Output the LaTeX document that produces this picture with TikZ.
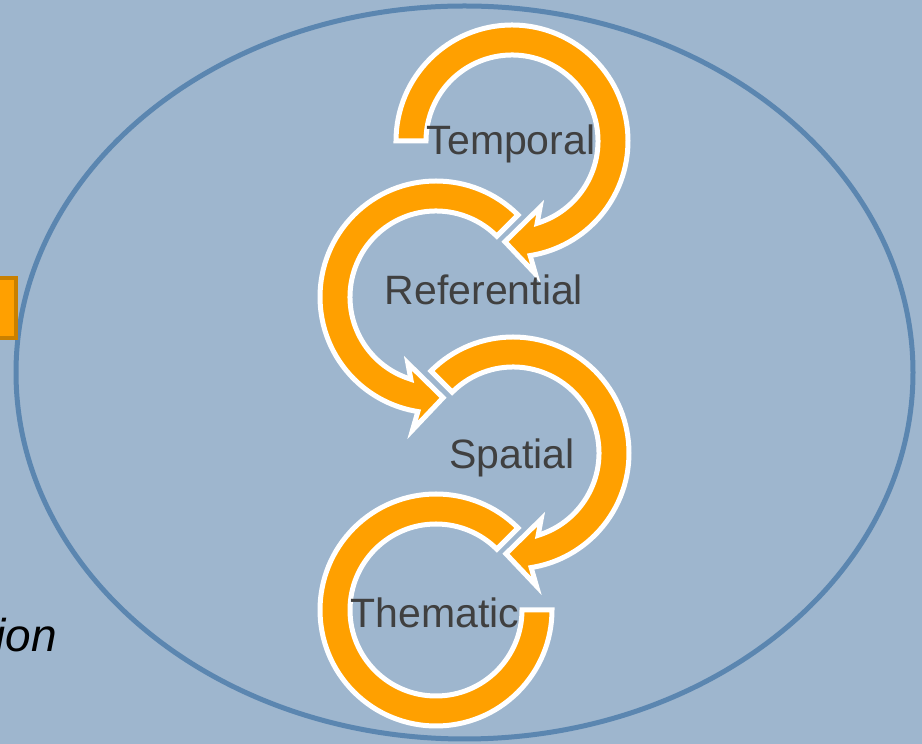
\documentclass[tikz,border=0pt]{standalone}
\usepackage{fontspec}
\setmainfont{Liberation Sans}
\definecolor{bgblue}{HTML}{9EB6CE}
\definecolor{rimblue}{HTML}{5B86B0}
\definecolor{ringorange}{HTML}{FFA000}
\definecolor{boxedge}{HTML}{C98000}
\definecolor{labelgray}{HTML}{404040}

\begin{document}
\begin{tikzpicture}[x=1pt,y=1pt,inner sep=0pt,outer sep=0pt,
ringarrow/.style={fill=ringorange,draw=white,line width=5pt,line join=miter},
ringlabel/.style={anchor=base,text=labelgray,font=\fontsize{41}{49}\selectfont}]

\fill[bgblue] (0,0) rectangle (922,744);
\useasboundingbox (0,0) rectangle (922,744);
\draw[rimblue,line width=5pt] (464.5,371.5) ellipse[x radius=448.5,y radius=366.5];

\coordinate (c1) at (512,603);
\coordinate (c2) at (436,447);
\coordinate (c3) at (513,291);
\coordinate (c4) at (436,134);

% rings, each drawn round its own centre
\filldraw[ringarrow,shift={(c1)}] (180:116) arc[start angle=180,end angle=-81,radius=116] -- (-80:135) -- (-94:101) -- (-67:72) -- (-73:86) arc[start angle=-73,end angle=180,radius=86] -- cycle;
\filldraw[ringarrow,shift={(c2)},xscale=-1] (135:116) arc[start angle=135,end angle=-81,radius=116] -- (-80:135) -- (-94:101) -- (-67:72) -- (-73:86) arc[start angle=-73,end angle=135,radius=86] -- cycle;
\filldraw[ringarrow,shift={(c3)}] (135:116) arc[start angle=135,end angle=-81,radius=116] -- (-80:135) -- (-94:101) -- (-67:72) -- (-73:86) arc[start angle=-73,end angle=135,radius=86] -- cycle;
\filldraw[ringarrow,shift={(c4)},xscale=-1] (135:116) arc[start angle=135,end angle=-180,radius=116] -- (180:86) arc[start angle=-180,end angle=135,radius=86] -- cycle;

\draw (511,589) node[ringlabel] (temporal) {Temporal};
\draw (484,439) node[ringlabel] (referential) {Referential};
\draw (512,275) node[ringlabel] (spatial) {Spatial};
\draw (435,116) node[ringlabel] (thematic) {Thematic};

\draw (3,436) node[draw=boxedge,fill=ringorange,line width=4.5pt,minimum width=26pt,minimum height=60pt] (box) {};
\draw (57,92) node[anchor=base east,font=\itshape\fontsize{46}{55}\selectfont] (ion) {ion};

\end{tikzpicture}
\end{document}
